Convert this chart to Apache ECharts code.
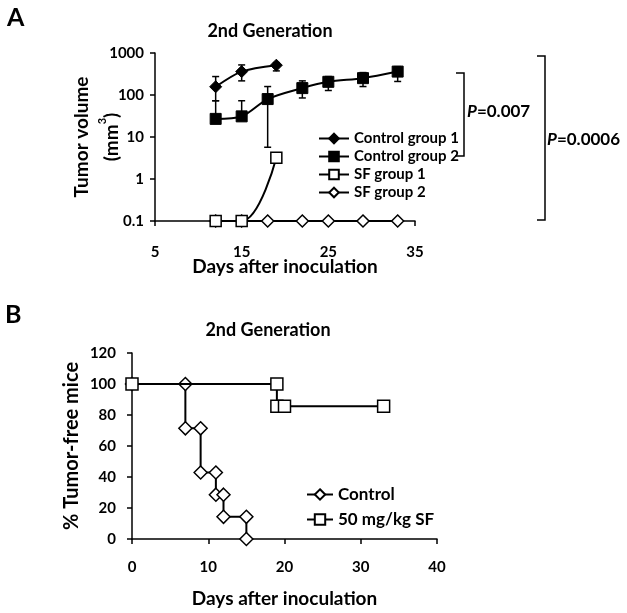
<!DOCTYPE html>
<html><head><meta charset="utf-8">
<script src="https://cdn.jsdelivr.net/npm/echarts@6/dist/echarts.min.js"></script>
<style>html,body{margin:0;padding:0;background:#fff}#c{width:627px;height:613px}</style>
</head><body><div id="c"></div>
<script>
// ---------- Panel A data ----------
const ctrl1Days = [12, 15, 19];
const ctrl1Vol  = [157, 361, 512];
const ctrl1Low  = [73, 217, 375];
const ctrl1High = [275, 520, 589];

const ctrl2Days = [12, 15, 18, 22, 25, 29, 33];
const ctrl2Vol  = [27, 31, 80, 146, 206, 252, 361];
const ctrl2Low  = [null, null, 5.7, 85, 128, 159, 210];
const ctrl2High = [73, 73, 159, 217, 275, 342, 473];

const sf1Days = [12, 15, 19];
const sf1Vol  = [0.1, 0.1, 3.2];

const sf2Days = [12, 15, 18, 22, 25, 29, 33];
const sf2Vol  = [0.1, 0.1, 0.1, 0.1, 0.1, 0.1, 0.1];

const xTicksA = [5, 15, 25, 35];
const yTicksA = [0.1, 1, 10, 100, 1000];
const namesA = ['Control group 1', 'Control group 2', 'SF group 1', 'SF group 2'];

// ---------- Panel B data ----------
const ctrlBDays = [0, 7, 7, 9, 9, 11, 11, 12, 12, 15, 15];
const ctrlBPct  = [100, 100, 71.4, 71.4, 42.9, 42.9, 28.6, 28.6, 14.3, 14.3, 0];
const sfBDays = [0, 19, 19, 20, 33];
const sfBPct  = [100, 100, 85.7, 85.7, 85.7];
const xTicksB = [0, 10, 20, 30, 40];
const yTicksB = [0, 20, 40, 60, 80, 100, 120];
const namesB = ['Control', '50 mg/kg SF'];

const FONT = 'Lato';
const zip = (a, b) => a.map((v, i) => [v, b[i]]);

function errRender(params, api) {
  const x = api.value(0), mid = api.value(1), lo = api.value(2), hi = api.value(3);
  const c = api.coord([x, mid]);
  const cw = 3.5;
  const st = { stroke: '#000', lineWidth: 1.5 };
  const ch = [];
  [hi, lo].forEach(v => {
    if (v == null || isNaN(v)) return;
    const p = api.coord([x, v]);
    ch.push({ type: 'line', shape: { x1: c[0], y1: c[1], x2: p[0], y2: p[1] }, style: st });
    ch.push({ type: 'line', shape: { x1: p[0] - cw, y1: p[1], x2: p[0] + cw, y2: p[1] }, style: st });
  });
  return { type: 'group', children: ch };
}
const errData = (d, m, l, h) => d.map((x, i) => [x, m[i], l[i] == null ? '-' : l[i], h[i] == null ? '-' : h[i]]);

const axisCommon = {
  nameMoveOverlap: false,
  axisLine: { show: true, lineStyle: { color: '#000', width: 1.5 } },
  axisTick: { show: true, inside: false, length: 5, lineStyle: { color: '#000', width: 1.5 } },
  splitLine: { show: false },
  axisLabel: { color: '#000', fontFamily: FONT, fontWeight: 'bold', fontSize: 15 },
  nameTextStyle: { color: '#000', fontFamily: FONT, fontWeight: 'bold', fontSize: 19 }
};

const hollow = { color: '#fff', borderColor: '#000', borderWidth: 1.5 };
const filled = { color: '#000', borderColor: '#000', borderWidth: 1 };
const lineSt = { color: '#000', width: 2 };
const titleStyle = { fontFamily: FONT, fontWeight: 'bold', fontSize: 18, color: '#000' };

const option = {
  animation: false,
  backgroundColor: '#fff',
  title: [
    { text: '2nd Generation', left: 265, top: 17, textAlign: 'center', textStyle: titleStyle },
    { text: '2nd Generation', left: 263, top: 316, textAlign: 'center', textStyle: titleStyle }
  ],
  grid: [
    { left: 155, top: 53, width: 260, height: 168 },
    { left: 132, top: 353, width: 305, height: 186 }
  ],
  xAxis: [
    Object.assign({}, axisCommon, {
      gridIndex: 0, type: 'value', min: xTicksA[0], max: xTicksA[xTicksA.length - 1],
      interval: xTicksA[1] - xTicksA[0],
      name: 'Days after inoculation', nameLocation: 'middle', nameGap: 36,
      axisLabel: Object.assign({}, axisCommon.axisLabel, { margin: 24 })
    }),
    Object.assign({}, axisCommon, {
      gridIndex: 1, type: 'value', min: xTicksB[0], max: xTicksB[xTicksB.length - 1],
      interval: xTicksB[1] - xTicksB[0],
      name: 'Days after inoculation', nameLocation: 'middle', nameGap: 50,
      axisLabel: Object.assign({}, axisCommon.axisLabel, { margin: 21 })
    })
  ],
  yAxis: [
    Object.assign({}, axisCommon, {
      gridIndex: 0, type: 'log', logBase: 10, min: yTicksA[0], max: yTicksA[yTicksA.length - 1],
      name: 'Tumor volume\n(mm{sup|3})', nameLocation: 'middle', nameGap: 28,
      nameTextStyle: Object.assign({}, axisCommon.nameTextStyle, { lineHeight: 30,
        rich: { sup: { fontSize: 11, fontWeight: 'bold', fontFamily: FONT, color: '#000', verticalAlign: 'top', lineHeight: 30, padding: [0, 0, 10, 0] } } }),
      axisLabel: Object.assign({}, axisCommon.axisLabel, { margin: 11,
        formatter: v => String(+(+v).toPrecision(3)) })
    }),
    Object.assign({}, axisCommon, {
      gridIndex: 1, type: 'value', min: yTicksB[0], max: yTicksB[yTicksB.length - 1],
      interval: yTicksB[1] - yTicksB[0],
      name: '% Tumor-free mice', nameLocation: 'middle', nameGap: 50,
      nameTextStyle: Object.assign({}, axisCommon.nameTextStyle, { fontSize: 20 }),
      axisLabel: Object.assign({}, axisCommon.axisLabel, { margin: 16 })
    })
  ],
  legend: [
    { data: namesA, orient: 'vertical', left: 318, top: 131, padding: 0, itemWidth: 30, itemHeight: 12, itemGap: 3,
      textStyle: { fontFamily: FONT, fontWeight: 'bold', fontSize: 15, color: '#000' } },
    { data: namesB, orient: 'vertical', left: 306, top: 486, padding: 0, itemWidth: 26, itemHeight: 13, itemGap: 8,
      textStyle: { fontFamily: FONT, fontWeight: 'bold', fontSize: 17, color: '#000' } }
  ],
  series: [
    { type: 'custom', name: 'err1', xAxisIndex: 0, yAxisIndex: 0, renderItem: errRender,
      data: errData(ctrl1Days, ctrl1Vol, ctrl1Low, ctrl1High), encode: { x: 0, y: [1, 2, 3] }, z: 1, clip: false },
    { type: 'custom', name: 'err2', xAxisIndex: 0, yAxisIndex: 0, renderItem: errRender,
      data: errData(ctrl2Days, ctrl2Vol, ctrl2Low, ctrl2High), encode: { x: 0, y: [1, 2, 3] }, z: 1, clip: false },
    { type: 'line', name: namesA[3], xAxisIndex: 0, yAxisIndex: 0, data: zip(sf2Days, sf2Vol),
      symbol: 'diamond', symbolSize: 12, smooth: 0.3, clip: false, z: 2,
      lineStyle: lineSt, itemStyle: hollow },
    { type: 'line', name: namesA[2], xAxisIndex: 0, yAxisIndex: 0, data: zip(sf1Days, sf1Vol),
      symbol: 'rect', symbolSize: 11, smooth: 0.4, clip: false, z: 2,
      lineStyle: lineSt, itemStyle: hollow },
    { type: 'line', name: namesA[1], xAxisIndex: 0, yAxisIndex: 0, data: zip(ctrl2Days, ctrl2Vol),
      symbol: 'rect', symbolSize: 11, smooth: 0.3, clip: false, z: 3,
      lineStyle: lineSt, itemStyle: filled },
    { type: 'line', name: namesA[0], xAxisIndex: 0, yAxisIndex: 0, data: zip(ctrl1Days, ctrl1Vol),
      symbol: 'diamond', symbolSize: 12, smooth: 0.3, clip: false, z: 3,
      lineStyle: lineSt, itemStyle: filled },
    { type: 'line', name: namesB[0], xAxisIndex: 1, yAxisIndex: 1, data: zip(ctrlBDays, ctrlBPct),
      symbol: 'diamond', symbolSize: 13, clip: false, z: 2,
      lineStyle: lineSt, itemStyle: hollow },
    { type: 'line', name: namesB[1], xAxisIndex: 1, yAxisIndex: 1, data: zip(sfBDays, sfBPct),
      symbol: 'rect', symbolSize: 12, clip: false, z: 3,
      lineStyle: lineSt, itemStyle: hollow }
  ],
  graphic: [
    { type: 'text', left: 7, top: 5, style: { text: 'A', font: 'bold 25px Lato', fill: '#000' } },
    { type: 'text', left: 5, top: 302, style: { text: 'B', font: 'bold 25px Lato', fill: '#000' } },
    { type: 'polyline', shape: { points: [[456, 73], [464, 73], [464, 156], [455, 156]] },
      style: { stroke: '#000', lineWidth: 1.5, fill: null } },
    { type: 'polyline', shape: { points: [[537, 56], [545, 56], [545, 220], [537, 220]] },
      style: { stroke: '#000', lineWidth: 1.5, fill: null } },
    { type: 'text', left: 467, top: 103, style: { text: '{i|P}=0.007',
      font: 'bold 17px Lato', fill: '#000',
      rich: { i: { fontStyle: 'italic', fontWeight: 'bold', fontSize: 17, fontFamily: FONT } } } },
    { type: 'text', left: 547, top: 131, style: { text: '{i|P}=0.0006',
      font: 'bold 17px Lato', fill: '#000',
      rich: { i: { fontStyle: 'italic', fontWeight: 'bold', fontSize: 17, fontFamily: FONT } } } }
  ]
};
const chart = echarts.init(document.getElementById('c'), null, { renderer: 'canvas' });
chart.setOption(option);
</script>
</body></html>
